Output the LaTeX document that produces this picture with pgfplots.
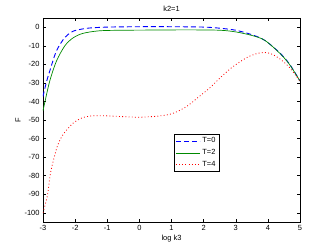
\documentclass[border=0pt]{standalone}
\usepackage{fontspec}
\setmainfont{Liberation Sans}
\usepackage{pgfplots}
\pgfplotsset{compat=1.18}
\begin{document}
\begin{tikzpicture}
\begin{axis}[
  scale only axis, width=257bp, height=204bp,
  xmin=-3, xmax=5, ymin=-105, ymax=5,
  xtick={-3,...,5}, ytick={-100,-90,...,0},
  tick align=inside, major tick length=3bp,
  tick style={black, line width=0.4pt},
  axis line style={line width=0.5pt},
  /pgf/number format/assume math mode=true,
  tick label style={font=\fontsize{7.5}{8}\selectfont},
  label style={font=\fontsize{7.5}{8}\selectfont},
  title style={font=\fontsize{7.5}{8}\selectfont, yshift=-3bp},
  title={k2=1}, xlabel={log k3}, ylabel={F},
  xlabel style={yshift=3bp},
  ylabel style={yshift=-3bp},
  legend style={font=\fontsize{7.5}{8}\selectfont, at={(axis cs:1.07,-57.6)}, anchor=north west, inner sep=1.5pt, row sep=1.2pt},
  legend cell align=left,
  legend image code/.code={\draw[#1] (0bp,0bp) -- (24bp,0bp);},
]
\addplot[blue, dash pattern=on 5bp off 3bp, line width=0.9pt, smooth] coordinates {
(-3,-37.3) (-2.9,-30) (-2.79,-23.6) (-2.58,-12.7) (-2.32,-5.5) (-2.07,-2.2) (-1.8,-1) (-1.55,-0.4) (-1,0.1) (0,0.3) (1,0.3) (2,0.1) (2.5,-0.5) (3,-1.6) (3.5,-4) (3.9,-7) (4.37,-13.8) (4.68,-20) (5,-29)};
\addlegendentry{T=0}
\addplot[black!40!green!90!black, line width=0.7pt, smooth] coordinates {
(-3,-45) (-2.95,-41) (-2.79,-29) (-2.58,-18.2) (-2.32,-10) (-2.07,-5.8) (-1.76,-3.3) (-1.24,-1.9) (-0.5,-1.6) (0.5,-1.5) (1.5,-1.4) (2.5,-1.6) (3,-2.5) (3.5,-4.4) (3.9,-7) (4.37,-14) (4.68,-20.2) (5,-29)};
\addlegendentry{T=2}
\addplot[red, dash pattern=on 0.9bp off 2.3bp, line width=0.8pt, smooth] coordinates {
(-3,-100) (-2.86,-90.5) (-2.76,-78) (-2.56,-64.5) (-2.38,-58) (-2.07,-51.8) (-1.8,-49) (-1.55,-47.9) (-1.13,-47.7) (-0.5,-48.2) (0.01,-48.5) (0.64,-47.8) (1.05,-46.4) (1.47,-42.7) (1.85,-37.5) (2.19,-32.7) (2.5,-27.5) (2.82,-22.5) (3.14,-18.5) (3.44,-15.5) (3.7,-14) (3.9,-13.6) (4.1,-14.3) (4.37,-17) (4.68,-21.8) (5,-29.1)};
\addlegendentry{T=4}
\end{axis}
\pgfresetboundingbox
\path ([xshift=-43bp,yshift=-28bp]current axis.south west) rectangle ([xshift=32bp,yshift=18bp]current axis.north east);
\end{tikzpicture}
\end{document}
